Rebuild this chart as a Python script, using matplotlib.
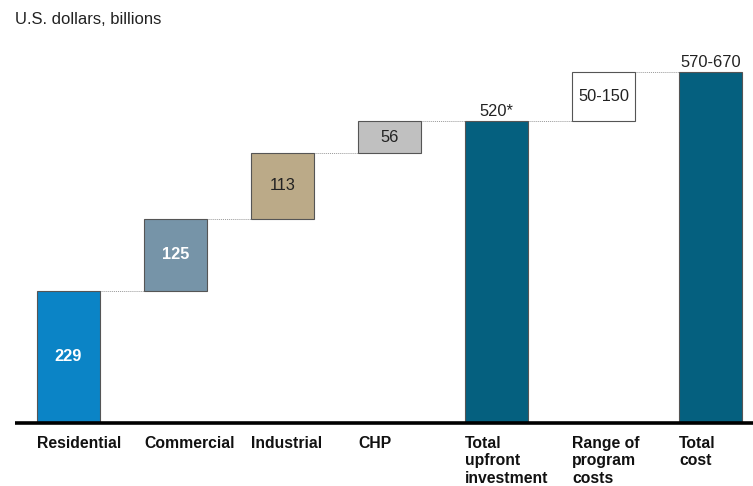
import matplotlib
matplotlib.use("Agg")
import matplotlib.pyplot as plt

plt.rcParams['font.family'] = ['Liberation Sans', 'DejaVu Sans']

categories = ["Residential", "Commercial", "Industrial", "CHP",
              "Total\nupfront\ninvestment", "Range of\nprogram\ncosts", "Total\ncost"]
increments = [229, 125, 113, 56]
total_upfront = sum(increments)          # drawn height (labelled 520*)
program_low, program_high = 50, 150
total_cost_drawn = 608                   # drawn height of total cost bar
value_labels = ["229", "125", "113", "56", "520*", "50-150", "570-670"]

colors = ["#0B84C6", "#7694A8", "#BBAA88", "#C0C0C0", "#05607F", "#FFFFFF", "#05607F"]
label_colors = ["white", "white", "#222222", "#222222", "#222222", "#222222", "#222222"]
label_weights = ["bold", "bold", "normal", "normal", "normal", "normal", "normal"]

W, H = 753, 486
fig = plt.figure(figsize=(W / 100, H / 100), dpi=100)
ax = fig.add_axes([15 / W, 63 / H, 738 / W, 423 / H])
ax.set_xlim(-0.5, 6.397)
ax.set_ylim(0, 423 / 0.5775)
ax.axis("off")

width = 0.589
bottoms, heights = [], []
cum = 0
for v in increments:
    bottoms.append(cum)
    heights.append(v)
    cum += v
bottoms.append(0); heights.append(total_upfront)
bottoms.append(total_upfront); heights.append(total_cost_drawn - total_upfront)
bottoms.append(0); heights.append(total_cost_drawn)

xs = list(range(len(categories)))
ax.bar(xs, heights, bottom=bottoms, width=width, color=colors,
       edgecolor="#555555", linewidth=0.8, zorder=3)

# connectors
tops = [b + h for b, h in zip(bottoms, heights)]
for i in range(len(xs) - 1):
    level = tops[i]
    ax.plot([xs[i] + width / 2, xs[i + 1] - width / 2], [level, level],
            color="#999999", linewidth=0.7, linestyle=(0, (1, 1)), zorder=2)

# value labels
for i in range(len(xs)):
    if i in (4, 6):
        ax.text(xs[i], tops[i] + 4, value_labels[i], ha="center", va="bottom",
                fontsize=11.8, color="#222222")
    else:
        ax.text(xs[i], bottoms[i] + heights[i] / 2, value_labels[i], ha="center",
                va="center", fontsize=11.8, color=label_colors[i],
                fontweight=label_weights[i])

# baseline
ax.plot([-0.5, 6.397], [0, 0], color="black", linewidth=2.6, zorder=4,
        clip_on=False, solid_capstyle="butt")

# category labels
for i, c in enumerate(categories):
    ax.text(xs[i] - width / 2, -22, c, ha="left", va="top", fontsize=11.3,
            fontweight="bold", color="#111111", linespacing=1.22)

fig.text(15 / W, 1 - 19 / H, "U.S. dollars, billions", ha="left", va="center",
         fontsize=12, color="#222222")

fig.savefig("out.png", dpi=100)
